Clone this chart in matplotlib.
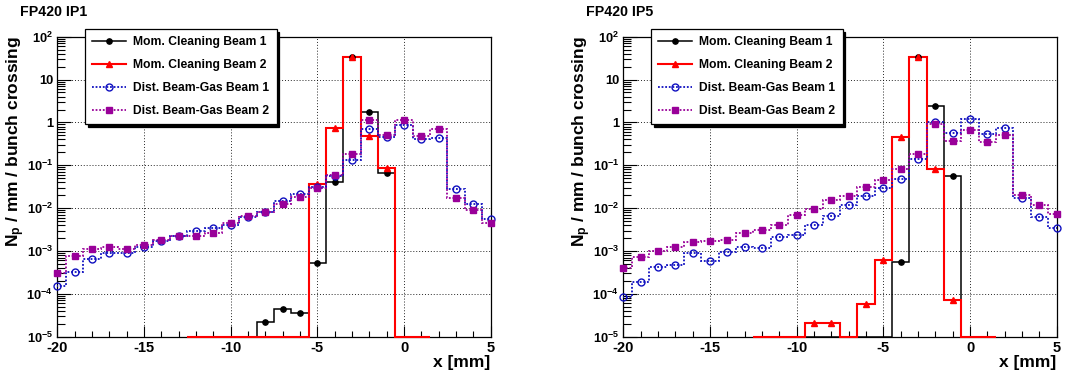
import numpy as np
import matplotlib
matplotlib.use('Agg')
import matplotlib.pyplot as plt
from matplotlib.lines import Line2D
from matplotlib.ticker import FixedLocator, FixedFormatter, LogLocator, NullFormatter, MultipleLocator

plt.rcParams['font.family'] = ['Liberation Sans', 'DejaVu Sans']
plt.rcParams['font.weight'] = 'bold'
plt.rcParams['mathtext.fontset'] = 'custom'
plt.rcParams['mathtext.rm'] = 'Liberation Sans:bold'
plt.rcParams['mathtext.bf'] = 'Liberation Sans:bold'
plt.rcParams['mathtext.it'] = 'Liberation Sans:bold'
plt.rcParams['mathtext.default'] = 'rm'

# ---------------- data ----------------
panel_titles = ['FP420 IP1', 'FP420 IP5']
series_labels = ['Mom. Cleaning Beam 1', 'Mom. Cleaning Beam 2',
                 'Dist. Beam-Gas Beam 1', 'Dist. Beam-Gas Beam 2']

# bin centres in mm (1 mm bins)
dist_x = np.arange(-20, 6)
mom_x = np.arange(-12, 2)

ip1_mom_b1 = [0, 0, 0, 0, 2.15e-5, 4.4e-5, 3.5e-5, 5.2e-4, 0.041, 34, 1.78, 0.067, 0, 0]
ip1_mom_b2 = [0, 0, 0, 0, 0, 0, 0, 0.036, 0.73, 34, 0.48, 0.088, 0, 0]
ip1_dist_b1 = [1.55e-4, 3.2e-4, 6.4e-4, 9.1e-4, 9.2e-4, 1.21e-3, 1.7e-3, 2.2e-3, 3.0e-3,
               3.5e-3, 4.0e-3, 6.3e-3, 8.1e-3, 0.0149, 0.0213, 0.0316, 0.057, 0.132,
               0.70, 0.46, 0.88, 0.42, 0.43, 0.028, 0.0122, 5.7e-3]
ip1_dist_b2 = [3.0e-4, 7.8e-4, 1.13e-3, 1.24e-3, 1.1e-3, 1.38e-3, 1.83e-3, 2.2e-3, 2.28e-3,
               2.67e-3, 4.5e-3, 6.5e-3, 8.3e-3, 0.0122, 0.0185, 0.029, 0.060, 0.18,
               1.12, 0.52, 1.13, 0.48, 0.69, 0.0175, 9.2e-3, 4.6e-3]

ip5_mom_b1 = [0, 0, 0, 0, 0, 0, 0, 0, 5.5e-4, 34, 2.4, 0.056, 0, 0]
ip5_mom_b2 = [0, 0, 0, 2.1e-5, 2.1e-5, 0, 5.8e-5, 6.3e-4, 0.46, 34, 0.083, 7.0e-5, 0, 0]
ip5_dist_b1 = [8.6e-5, 1.92e-4, 4.2e-4, 4.7e-4, 8.8e-4, 5.8e-4, 9.4e-4, 1.21e-3, 1.15e-3,
               2.1e-3, 2.36e-3, 3.96e-3, 6.4e-3, 0.012, 0.0188, 0.029, 0.049, 0.142,
               1.02, 0.575, 1.18, 0.54, 0.75, 0.0175, 6.2e-3, 3.4e-3]
ip5_dist_b2 = [4.1e-4, 7.2e-4, 1.0e-3, 1.26e-3, 1.59e-3, 1.7e-3, 1.83e-3, 2.67e-3, 3.08e-3,
               4.0e-3, 6.9e-3, 9.4e-3, 0.0152, 0.0191, 0.0305, 0.045, 0.083, 0.183,
               0.92, 0.36, 0.66, 0.34, 0.51, 0.0202, 0.0118, 7.3e-3]

ytick_vals = [1e-5, 1e-4, 1e-3, 1e-2, 1e-1, 1, 10, 100]
ytick_labels = ['10$^{-5}$', '10$^{-4}$', '10$^{-3}$', '10$^{-2}$', '10$^{-1}$', '1', '10', '10$^{2}$']
xtick_vals = [-20, -15, -10, -5, 0, 5]
xtick_labels = ['-20', '-15', '-10', '-5', '0', '5']

# ---------------- styles ----------------
YMIN, YMAX = 1e-5, 100
styles = [
    dict(color='black', lw=1.1, ls='-', marker='o', ms=3.8, mfc='black', mec='black', clip=False),
    dict(color='#ff0000', lw=1.5, ls='-', marker='^', ms=4.2, mfc='#ff0000', mec='#ff0000', clip=False),
    dict(color='#1010c0', lw=1.3, ls=(0, (1, 1)), marker='o', ms=5.0, mfc='none', mec='#1010c0', clip=True),
    dict(color='#990099', lw=1.3, ls=(0, (1, 1)), marker='s', ms=5.0, mfc='#990099', mec='#990099', clip=True),
]

fig = plt.figure(figsize=(10.76, 3.79), dpi=100)
W, H = 1076, 379
ax_lefts = [57.3, 623.3]
ax_w, ax_top, ax_bot = 433.4, 36.7, 336.7
leg_lefts = [85, 651]

panels = [
    (panel_titles[0], [(mom_x, ip1_mom_b1), (mom_x, ip1_mom_b2), (dist_x, ip1_dist_b1), (dist_x, ip1_dist_b2)]),
    (panel_titles[1], [(mom_x, ip5_mom_b1), (mom_x, ip5_mom_b2), (dist_x, ip5_dist_b1), (dist_x, ip5_dist_b2)]),
]
title_x = [20, 586]

for pi, (title, series) in enumerate(panels):
    ax = fig.add_axes([ax_lefts[pi] / W, (H - ax_bot) / H, ax_w / W, (ax_bot - ax_top) / H])
    ax.set_yscale('log')
    ax.set_xlim(-20, 5)
    ax.set_ylim(YMIN, YMAX)

    for (x, vals), st in zip(series, styles):
        v = np.asarray(vals, dtype=float)
        edges = np.append(x - 0.5, x[-1] + 0.5)
        vplot = np.where(v > 0, v, YMIN)
        ax.stairs(vplot, edges, baseline=None, color=st['color'], lw=st['lw'],
                  ls=st['ls'], clip_on=st['clip'], zorder=3)
        m = v > 0
        ax.plot(x[m], v[m], ls='none', marker=st['marker'], ms=st['ms'],
                mfc=st['mfc'], mec=st['mec'], mew=1.0, clip_on=False, zorder=4)

    # ticks
    ax.yaxis.set_major_locator(FixedLocator(ytick_vals))
    ax.yaxis.set_major_formatter(FixedFormatter(ytick_labels))
    ax.yaxis.set_minor_locator(LogLocator(base=10, subs=np.arange(2, 10), numticks=50))
    ax.yaxis.set_minor_formatter(NullFormatter())
    ax.xaxis.set_major_locator(FixedLocator(xtick_vals))
    ax.xaxis.set_major_formatter(FixedFormatter(xtick_labels))
    ax.xaxis.set_minor_locator(MultipleLocator(1))
    ax.tick_params(which='both', direction='in', top=False, right=False, width=0.8)
    ax.tick_params(axis='y', which='major', length=10, pad=3, labelsize=9.3)
    ax.tick_params(axis='y', which='minor', length=6)
    ax.tick_params(axis='x', which='major', length=8, pad=3, labelsize=10.5)
    ax.tick_params(axis='x', which='minor', length=4.5)

    ax.grid(True, which='major', color='black', ls=(0, (1, 2)), lw=0.7, alpha=0.85)
    for s in ax.spines.values():
        s.set_linewidth(0.9)

    ax.set_ylabel('N$_{p}$ / mm / bunch crossing', fontsize=12.5, fontweight='bold', loc='top')
    ax.yaxis.set_label_coords(-0.069, 1.0)
    ax.set_xlabel('x [mm]', fontsize=12.5, fontweight='bold', loc='right')
    ax.xaxis.set_label_coords(1.0, -0.062)

    fig.text(title_x[pi] / W, 1 - 12 / H, title, fontsize=10.2, fontweight='bold',
             ha='left', va='center')

    handles = [Line2D([], [], color=st['color'], lw=st['lw'], ls=st['ls'], marker=st['marker'],
                      ms=st['ms'], mfc=st['mfc'], mec=st['mec']) for st in styles]
    leg = ax.legend(handles, series_labels, loc='upper left',
                    bbox_to_anchor=((leg_lefts[pi] - ax_lefts[pi]) / ax_w,
                                    (ax_bot - 29) / (ax_bot - ax_top)),
                    borderaxespad=0, frameon=True, fancybox=False,
                    shadow={'color': 'black', 'alpha': 1.0}, borderpad=0.6,
                    labelspacing=0.9, handlelength=2.8, handletextpad=0.6,
                    prop={'weight': 'bold', 'size': 8.7})
    leg.get_frame().set_edgecolor('black')
    leg.get_frame().set_linewidth(0.9)
    leg.set_zorder(10)

fig.savefig('out.png', dpi=100)
